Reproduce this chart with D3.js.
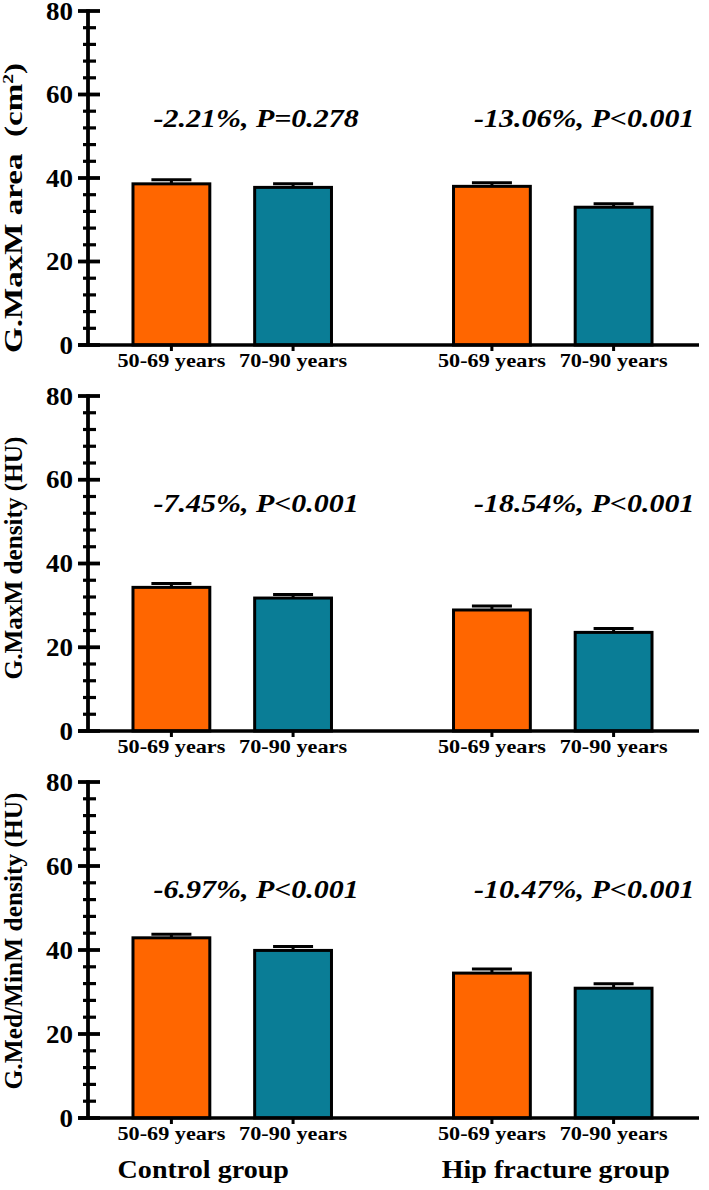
<!DOCTYPE html>
<html>
<head>
<meta charset="utf-8">
<script src="https://cdn.jsdelivr.net/npm/d3@7"></script>
<style>
  html, body { margin: 0; padding: 0; background: #fff; }
  svg { display: block; }
  text { font-family: "Liberation Serif", "Times New Roman", serif; font-weight: bold; fill: #000; }
</style>
</head>
<body>
<svg id="chart" width="709" height="1190"></svg>
<script>
// ---------------- data ----------------
const groups = ["Control group", "Hip fracture group"];
const ages = ["50-69 years", "70-90 years"];
const yTicks = [0, 20, 40, 60, 80];
const yMinorStep = 4;

const panelTitles = ["G.MaxM area  (cm", "G.MaxM density (HU)", "G.Med/MinM density (HU)"];

// order: control 50-69, control 70-90, hip 50-69, hip 70-90
const maxmAreaMean = [38.6, 37.75, 38.0, 33.0];
const maxmAreaSem = [1.0, 0.9, 0.85, 0.85];
const maxmDensityMean = [34.3, 31.75, 28.9, 23.55];
const maxmDensitySem = [0.9, 0.85, 0.95, 0.9];
const medminDensityMean = [42.9, 39.9, 34.5, 30.9];
const medminDensitySem = [0.85, 0.95, 0.95, 1.05];

const maxmAreaNotes = ["-2.21%, P=0.278", "-13.06%, P<0.001"];
const maxmDensityNotes = ["-7.45%, P<0.001", "-18.54%, P<0.001"];
const medminDensityNotes = ["-6.97%, P<0.001", "-10.47%, P<0.001"];
const noteLevel = 52.3; // value level of the annotation baseline

const ageColors = ["#ff6600", "#0a7d96"];

// ---------------- layout ----------------
const panels = [
  { title: panelTitles[0], sup: "2", mean: maxmAreaMean, sem: maxmAreaSem, notes: maxmAreaNotes, top: 11, bottom: 345, titleY: 208, titleLen: 290 },
  { title: panelTitles[1], sup: null, mean: maxmDensityMean, sem: maxmDensitySem, notes: maxmDensityNotes, top: 396, bottom: 731, titleY: 558, titleLen: 243 },
  { title: panelTitles[2], sup: null, mean: medminDensityMean, sem: medminDensitySem, notes: medminDensityNotes, top: 782, bottom: 1118, titleY: 941, titleLen: 297 }
];

const axisX = 88;
const xEnd = 697;

const svg = d3.select("#chart");

const xOuter = d3.scaleBand().domain(groups).range([axisX, xEnd]).paddingInner(0.3).paddingOuter(0.1);
const xInner = d3.scaleBand().domain(ages).range([0, xOuter.bandwidth()]).paddingInner(0.344).paddingOuter(0.094);

function barX(i) {
  const g = groups[Math.floor(i / 2)];
  const a = ages[i % 2];
  return xOuter(g) + xInner(a);
}

const stretchText = (sel, x, y, sx) => sel.attr("transform", `translate(${x},${y}) scale(${sx},1)`);

panels.forEach((p, pi) => {
  const y = d3.scaleLinear().domain([0, 80]).range([p.bottom, p.top]);
  const g = svg.append("g");

  // bars
  const vals = p.mean.map((m, i) => ({ m, s: p.sem[i], i }));
  const bw = xInner.bandwidth();
  g.selectAll("rect.bar").data(vals).enter().append("rect")
    .attr("class", "bar")
    .attr("x", d => barX(d.i) + 1.5)
    .attr("width", bw - 3)
    .attr("y", d => y(d.m))
    .attr("height", d => y(0) - y(d.m))
    .attr("fill", d => ageColors[d.i % 2])
    .attr("stroke", "#000")
    .attr("stroke-width", 3);

  // error bars
  g.selectAll("line.err").data(vals).enter().append("line")
    .attr("x1", d => barX(d.i) + bw / 2).attr("x2", d => barX(d.i) + bw / 2)
    .attr("y1", d => y(d.m)).attr("y2", d => y(d.m + d.s))
    .attr("stroke", "#000").attr("stroke-width", 3);
  g.selectAll("line.cap").data(vals).enter().append("line")
    .attr("x1", d => barX(d.i) + bw / 2 - 20).attr("x2", d => barX(d.i) + bw / 2 + 20)
    .attr("y1", d => y(d.m + d.s)).attr("y2", d => y(d.m + d.s))
    .attr("stroke", "#000").attr("stroke-width", 3);

  // x axis
  g.append("line").attr("x1", axisX - 10).attr("x2", xEnd + 2)
    .attr("y1", y(0)).attr("y2", y(0)).attr("stroke", "#000").attr("stroke-width", 3.5);
  g.selectAll("line.xt").data(vals).enter().append("line")
    .attr("x1", d => barX(d.i) + bw / 2).attr("x2", d => barX(d.i) + bw / 2)
    .attr("y1", y(0)).attr("y2", y(0) + 6)
    .attr("stroke", "#000").attr("stroke-width", 3);
  vals.forEach(d => {
    g.append("text").attr("text-anchor", "middle").style("font-size", "19px")
      .call(stretchText, barX(d.i) + bw / 2, y(0) + 22, 1.17)
      .text(ages[d.i % 2]);
  });

  // y axis
  g.append("line").attr("x1", axisX).attr("x2", axisX)
    .attr("y1", y(80) - 1.75).attr("y2", y(0)).attr("stroke", "#000").attr("stroke-width", 3.8);
  const minor = d3.range(0, 80 + 0.001, yMinorStep).filter(v => !yTicks.includes(v));
  g.selectAll("line.ymin").data(minor).enter().append("line")
    .attr("x1", axisX - 5).attr("x2", axisX + 8)
    .attr("y1", d => y(d)).attr("y2", d => y(d))
    .attr("stroke", "#000").attr("stroke-width", 3.2);
  g.selectAll("line.ymaj").data(yTicks).enter().append("line")
    .attr("x1", axisX - 10).attr("x2", axisX + 12)
    .attr("y1", d => y(d)).attr("y2", d => y(d))
    .attr("stroke", "#000").attr("stroke-width", 3.8);
  yTicks.forEach(t => {
    g.append("text").attr("text-anchor", "end").style("font-size", "25px")
      .call(stretchText, axisX - 15, y(t) + 8.5, 1.08)
      .text(t);
  });

  // y title, stretched along its length to the reference's length
  const tt = g.append("text").attr("text-anchor", "middle").style("font-size", "25.5px")
    .style("white-space", "pre");
  tt.append("tspan").text(p.title);
  if (p.sup) {
    tt.append("tspan").attr("dy", -9).style("font-size", "15px").text(p.sup);
    tt.append("tspan").attr("dy", 9).text(")");
  }
  const natural = tt.node().getBBox().width;
  tt.attr("transform", `translate(22,${p.titleY}) rotate(-90) scale(${p.titleLen / natural},1)`);

  // annotations
  p.notes.forEach((n, gi) => {
    const ox = xOuter(groups[gi]) + xInner(ages[0]) + 22;
    g.append("text").attr("text-anchor", "start")
      .style("font-size", "25px").style("font-style", "italic")
      .call(stretchText, ox, y(noteLevel), 1.2)
      .text(n);
  });
});

// group labels along bottom
const groupLabelShift = [-29, 3];
groups.forEach((gname, gi) => {
  svg.append("text").attr("text-anchor", "middle").style("font-size", "26px")
    .call(stretchText, xOuter(gname) + xOuter.bandwidth() / 2 + groupLabelShift[gi], 1178, 1.08)
    .text(gname);
});
</script>
</body>
</html>
